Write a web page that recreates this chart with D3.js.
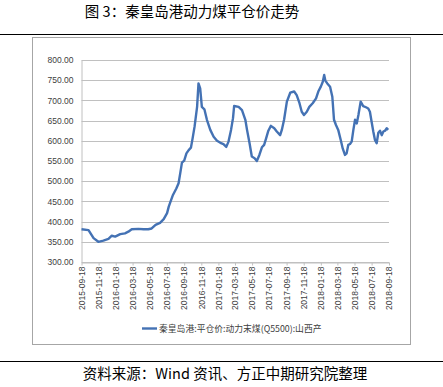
<!DOCTYPE html>
<html>
<head>
<meta charset="utf-8">
<script src="https://cdn.jsdelivr.net/npm/d3@7/dist/d3.min.js"></script>
<style>
  body { margin: 0; background: #fff; }
  svg { display: block; }
</style>
</head>
<body>
<div id="chart"></div>
<script>
// series: 秦皇岛港:平仓价:动力末煤(Q5500):山西产
var dates = [
    "2015-09-18", "2015-10-13", "2015-10-31", "2015-11-17", "2015-12-05", "2015-12-23",
    "2016-01-04", "2016-01-16", "2016-02-03", "2016-02-20", "2016-03-03", "2016-03-15",
    "2016-04-08", "2016-04-26", "2016-05-13", "2016-05-25", "2016-06-08", "2016-06-24",
    "2016-07-07", "2016-07-19", "2016-07-25", "2016-07-31", "2016-08-09", "2016-08-21",
    "2016-08-29", "2016-09-04", "2016-09-10", "2016-09-18", "2016-09-26", "2016-10-04",
    "2016-10-12", "2016-10-18", "2016-10-25", "2016-11-03", "2016-11-08", "2016-11-14",
    "2016-11-20", "2016-11-29", "2016-12-08", "2016-12-20", "2017-01-01", "2017-01-13",
    "2017-01-25", "2017-02-05", "2017-02-15", "2017-02-23", "2017-03-04", "2017-03-11",
    "2017-03-15", "2017-03-31", "2017-04-12", "2017-04-24", "2017-04-30", "2017-05-09",
    "2017-05-17", "2017-05-27", "2017-06-04", "2017-06-13", "2017-06-22", "2017-06-30",
    "2017-07-07", "2017-07-15", "2017-07-24", "2017-08-05", "2017-08-14", "2017-08-26",
    "2017-09-01", "2017-09-09", "2017-09-19", "2017-10-01", "2017-10-15", "2017-10-24",
    "2017-11-03", "2017-11-11", "2017-11-19", "2017-11-29", "2017-12-08", "2017-12-20",
    "2018-01-01", "2018-01-09", "2018-01-18", "2018-01-25", "2018-01-30", "2018-02-03",
    "2018-02-10", "2018-02-20", "2018-02-28", "2018-03-06", "2018-03-13", "2018-03-21",
    "2018-03-30", "2018-04-06", "2018-04-14", "2018-04-20", "2018-04-26", "2018-05-02",
    "2018-05-08", "2018-05-14", "2018-05-20", "2018-05-26", "2018-06-01", "2018-06-09",
    "2018-06-18", "2018-06-28", "2018-07-06", "2018-07-12", "2018-07-18", "2018-07-24",
    "2018-07-30", "2018-08-05", "2018-08-11", "2018-08-17", "2018-08-23", "2018-08-29",
    "2018-09-04", "2018-09-10", "2018-09-15"
];
var prices = [
    381, 379, 359, 350, 353, 357,
    365, 363, 369, 371, 375, 381,
    382, 381, 381, 383, 392, 397,
    406, 421, 437, 449, 466, 482,
    495, 520, 546, 551, 569, 577,
    583, 606, 635, 684, 742, 730,
    684, 678, 652, 627, 610, 600,
    595, 592, 585, 598, 627, 656,
    686, 684, 676, 652, 627, 594,
    561, 557, 550, 565, 584, 590,
    606, 625, 637, 631, 623, 614,
    627, 652, 697, 719, 722, 713,
    693, 672, 664, 672, 684, 693,
    705, 722, 734, 746, 763, 749,
    742, 734, 709, 652, 639, 627,
    602, 581, 565, 569, 590, 592,
    598, 627, 652, 643, 664, 697,
    686, 683, 680, 672, 647, 623,
    602, 594, 620, 625, 614, 623,
    625, 631, 627
];
var xTickDates = [
    "2015-09-18", "2015-11-18", "2016-01-18", "2016-03-18", "2016-05-18", "2016-07-18",
    "2016-09-18", "2016-11-18", "2017-01-18", "2017-03-18", "2017-05-18", "2017-07-18",
    "2017-09-18", "2017-11-18", "2018-01-18", "2018-03-18", "2018-05-18", "2018-07-18",
    "2018-09-18"
];
var yTicks = [300, 350, 400, 450, 500, 550, 600, 650, 700, 750, 800];
var seriesName = "秦皇岛港:平仓价:动力末煤(Q5500):山西产";
var titleText = "图 3：秦皇岛港动力煤平仓价走势";
var sourceText = "资料来源：Wind 资讯、方正中期研究院整理";

var W = 443, H = 387;
var cjk = "'Noto Sans CJK SC', 'Noto Sans', sans-serif";
var num = "'Liberation Sans', Arial, sans-serif";

var parse = d3.timeParse("%Y-%m-%d");
var data = dates.map(function (d, i) { return { date: parse(d), value: prices[i] }; });

var svg = d3.select("#chart").append("svg")
    .attr("width", W)
    .attr("height", H);

// title + separator rules
svg.append("text")
    .attr("x", 192).attr("y", 17)
    .attr("text-anchor", "middle")
    .attr("font-family", cjk)
    .attr("font-size", 14.5)
    .attr("fill", "#000")
    .text(titleText);

svg.append("line")
    .attr("x1", 0).attr("x2", W).attr("y1", 34.5).attr("y2", 34.5)
    .attr("stroke", "#000").attr("stroke-width", 1);
svg.append("line")
    .attr("x1", 0).attr("x2", W).attr("y1", 361.5).attr("y2", 361.5)
    .attr("stroke", "#000").attr("stroke-width", 1);

// chart frame
svg.append("rect")
    .attr("x", 32.5).attr("y", 37.5)
    .attr("width", 378).attr("height", 307)
    .attr("fill", "#fff")
    .attr("stroke", "#a6a6a6");

var x = d3.scaleTime()
    .domain([parse("2015-09-18"), parse("2018-09-18")])
    .range([81.5, 389]);
var y = d3.scaleLinear()
    .domain([300, 800])
    .range([262, 60]);

// horizontal gridlines
svg.append("g")
    .selectAll("line")
    .data(yTicks)
    .enter()
    .append("line")
    .attr("x1", x.range()[0]).attr("x2", x.range()[1])
    .attr("y1", function (d) { return Math.round(y(d)) + 0.5; })
    .attr("y2", function (d) { return Math.round(y(d)) + 0.5; })
    .attr("stroke", "#c0c0c0");

// y axis
var yAxis = svg.append("g")
    .attr("transform", "translate(" + x.range()[0] + ",0)")
    .call(d3.axisLeft(y).tickValues(yTicks).tickSize(0).tickPadding(8)
        .tickFormat(d3.format(".2f")));
yAxis.select(".domain").attr("stroke", "#c0c0c0");
yAxis.selectAll("text")
    .attr("font-family", num)
    .attr("font-size", 8.5)
    .attr("fill", "#404040");

// x axis
var xAxis = svg.append("g")
    .attr("transform", "translate(0," + (Math.round(y(300)) + 0.5) + ")")
    .call(d3.axisBottom(x)
        .tickValues(xTickDates.map(parse))
        .tickSize(3)
        .tickSizeOuter(0)
        .tickFormat(d3.timeFormat("%Y-%m-%d")));
xAxis.select(".domain").attr("stroke", "#c0c0c0");
xAxis.selectAll(".tick line").attr("stroke", "#c0c0c0");
xAxis.selectAll("text")
    .attr("font-family", num)
    .attr("font-size", 8.5)
    .attr("fill", "#404040")
    .attr("text-anchor", "end")
    .attr("transform", "rotate(-90)")
    .attr("x", -4)
    .attr("y", 0)
    .attr("dy", "0.32em");

// price line
var line = d3.line()
    .x(function (d) { return x(d.date); })
    .y(function (d) { return y(d.value); });

svg.append("path")
    .datum(data)
    .attr("d", line)
    .attr("fill", "none")
    .attr("stroke", "#4472b4")
    .attr("stroke-width", 2.4)
    .attr("stroke-linejoin", "round");

// legend
svg.append("line")
    .attr("x1", 142).attr("x2", 157)
    .attr("y1", 328.5).attr("y2", 328.5)
    .attr("stroke", "#4472b4")
    .attr("stroke-width", 2.4);
svg.append("text")
    .attr("x", 159).attr("y", 332)
    .attr("font-family", cjk)
    .attr("font-size", 8.8)
    .attr("fill", "#404040")
    .text(seriesName);

// source
svg.append("text")
    .attr("x", 225).attr("y", 379)
    .attr("text-anchor", "middle")
    .attr("font-family", cjk)
    .attr("font-size", 14.5)
    .attr("fill", "#000")
    .text(sourceText);
</script>
</body>
</html>
